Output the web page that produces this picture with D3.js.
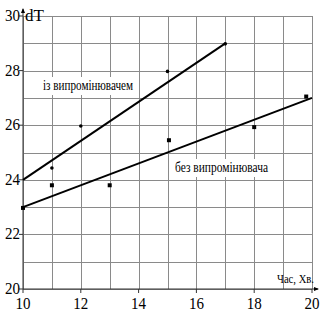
<!DOCTYPE html>
<html lang="en">
<head>
<meta charset="utf-8">
<style>
  body, html { margin: 0; padding: 0; background: #fff; }
  svg { display: block; }
  .grid line { stroke: #8a8a8a; stroke-width: 1px; shape-rendering: crispEdges; }
</style>
<script src="https://d3js.org/d3.v7.min.js"></script>
</head>
<body>
<svg id="chart" width="324" height="321"></svg>
<script>
// data
var withX = [11, 12, 15, 17];
var withY = [24.43, 25.97, 27.97, 28.98];
var withoutX = [10, 11, 13, 15.05, 18, 19.8];
var withoutY = [22.97, 23.8, 23.8, 25.45, 25.93, 27.05];
var lineWith = [[10, 24], [17, 29]];
var lineWithout = [[10, 23], [20, 27]];
var xTicks = [10, 12, 14, 16, 18, 20];
var yTicks = [20, 22, 24, 26, 28, 30];

var serif = "'Liberation Serif'";

var svg = d3.select("#chart");
var x = d3.scaleLinear().domain([10, 20]).range([23, 312]);
var y = d3.scaleLinear().domain([20, 30]).range([289, 16]);

// grid
var grid = svg.append("g").attr("class", "grid");
grid.selectAll(".v").data(d3.range(10, 21)).enter().append("line")
    .attr("x1", d => Math.round(x(d)) + 0.5).attr("x2", d => Math.round(x(d)) + 0.5)
    .attr("y1", y(30)).attr("y2", y(20));
grid.selectAll(".h").data(d3.range(20, 31)).enter().append("line")
    .attr("y1", d => Math.round(y(d)) + 0.5).attr("y2", d => Math.round(y(d)) + 0.5)
    .attr("x1", x(10)).attr("x2", x(20));

// axes
var axisG = svg.append("g");
axisG.append("line").attr("x1", x(10)).attr("x2", x(10)).attr("y1", y(20)).attr("y2", 9)
    .attr("stroke", "#333").attr("stroke-width", 1);
axisG.append("path").attr("d", "M" + x(10) + ",8 l-2,5 l4,0 z").attr("fill", "#000");
axisG.append("line").attr("x1", x(10)).attr("x2", 318).attr("y1", y(20)).attr("y2", y(20))
    .attr("stroke", "#333").attr("stroke-width", 1);
axisG.append("path").attr("d", "M319," + y(20) + " l-5,-2 l0,4 z").attr("fill", "#000");

axisG.selectAll(".yt").data(yTicks).enter().append("line")
    .attr("x1", x(10) - 4).attr("x2", x(10))
    .attr("y1", d => y(d)).attr("y2", d => y(d)).attr("stroke", "#333");
axisG.selectAll(".xt").data(xTicks).enter().append("line")
    .attr("x1", d => x(d)).attr("x2", d => x(d))
    .attr("y1", y(20)).attr("y2", y(20) + 4).attr("stroke", "#333");

axisG.selectAll(".yl").data(yTicks).enter().append("text")
    .style("font-family", serif).style("font-size", "17px")
    .attr("x", x(10) - 3).attr("y", d => y(d) + 5)
    .attr("text-anchor", "end")
    .attr("textLength", 15).attr("lengthAdjust", "spacingAndGlyphs")
    .text(d => d);
axisG.selectAll(".xl").data(xTicks).enter().append("text")
    .style("font-family", serif).style("font-size", "17px")
    .attr("x", d => x(d) - 7.5).attr("y", y(20) + 20)
    .attr("textLength", 15).attr("lengthAdjust", "spacingAndGlyphs")
    .text(d => d);

svg.append("text").style("font-family", serif).style("font-size", "17px")
    .attr("x", x(10) + 2).attr("y", y(30) + 5).text("dT");
svg.append("text").style("font-family", serif).style("font-size", "13px")
    .attr("x", 277).attr("y", y(20) - 6)
    .attr("textLength", 37).attr("lengthAdjust", "spacingAndGlyphs")
    .text("Час, Хв.");

// fitted lines
var line = d3.line().x(d => x(d[0])).y(d => y(d[1]));
svg.append("path").attr("d", line(lineWith)).attr("fill", "none").attr("stroke", "#000").attr("stroke-width", 2);
svg.append("path").attr("d", line(lineWithout)).attr("fill", "none").attr("stroke", "#000").attr("stroke-width", 2);

// points
svg.selectAll(".dot").data(withX).enter().append("circle")
    .attr("cx", d => x(d)).attr("cy", (d, i) => y(withY[i])).attr("r", 1.8).attr("fill", "#000");
svg.selectAll(".sq").data(withoutX).enter().append("rect")
    .attr("x", d => x(d) - 2).attr("y", (d, i) => y(withoutY[i]) - 2)
    .attr("width", 4).attr("height", 4).attr("fill", "#000");

// series labels on white boxes
function label(txt, x0, y0, w) {
  var g = svg.append("g");
  g.append("rect").attr("x", x0 - 3).attr("y", y0 - 13).attr("width", w + 6).attr("height", 18)
      .attr("fill", "#fff");
  g.append("text").style("font-family", serif).style("font-size", "15px")
      .attr("x", x0).attr("y", y0)
      .attr("textLength", w).attr("lengthAdjust", "spacingAndGlyphs")
      .text(txt);
}
label("із випромінювачем", 43, 90, 90);
label("без випромінювача", 175, 172, 93);
</script>
</body>
</html>
